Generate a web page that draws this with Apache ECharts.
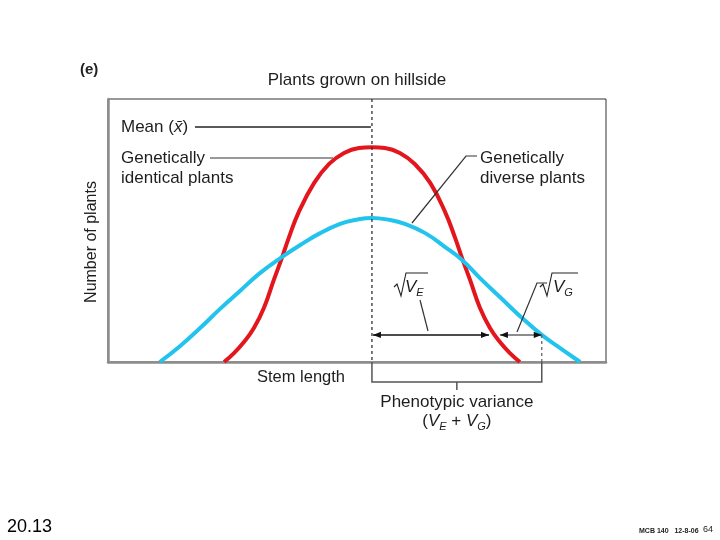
<!DOCTYPE html>
<html><head><meta charset="utf-8">
<script src="https://cdn.jsdelivr.net/npm/echarts@6/dist/echarts.min.js"></script>
<style>html,body{margin:0;padding:0;background:#fff}#c{width:720px;height:540px}</style>
</head><body><div id="c"></div>
<script>
// Genetically identical plants (red curve): stem length vs number of plants
const identicalX = [23.3,25.3,27.3,29.3,31.3,33.3,34.9,36.3,38.3,41.4,44.4,47.4,50.4,53.0,55.6,58.6,61.6,64.7,67.7,69.7,71.1,72.7,74.7,76.7,78.7,80.7,82.7];
const identicalY = [0,3.4,7.6,12.9,20.5,31.2,39.5,47.2,57.0,68.1,75.3,79.5,81.4,81.7,81.4,79.5,75.3,68.1,57.0,47.2,39.5,31.2,20.5,12.9,7.6,3.4,0];
// Genetically diverse plants (cyan curve)
const diverseX = [10.4,14.5,18.5,22.5,26.5,30.5,34.9,38.6,42.6,46.6,49.6,53.0,56.6,59.6,63.7,67.7,71.1,74.7,78.7,82.7,87.1,90.8,94.8];
const diverseY = [0,6.1,12.9,20.2,27.0,33.8,39.9,44.5,49.0,52.5,54.0,54.8,54.0,52.5,49.0,43.7,38.8,31.9,24.7,17.5,10.3,5.3,0];
// Annotation values (data units)
const meanX = 53.0;
const arrowY = 10.3;
const bracketY = -7.6;
const veSpan = [53.2, 76.5];
const vgSpan = [78.7, 87.1];

(function () {
const F = '"Liberation Sans", Arial, Helvetica, sans-serif';
const TXT = '#1e1e1e';
const zip = (xs, ys) => xs.map((x, i) => [x, ys[i]]);

const chart = echarts.init(document.getElementById('c'), null, {renderer: 'canvas'});
const axisCommon = {
  type: 'value', min: 0, max: 100,
  axisLine: {show: true, onZero: false, lineStyle: {color: '#8c8c8c', width: 2.5}},
  axisTick: {show: false}, axisLabel: {show: false}, splitLine: {show: false}
};
chart.setOption({
  animation: false,
  backgroundColor: '#fff',
  grid: {left: 108, top: 99, width: 498, height: 263, show: true, borderColor: '#333', borderWidth: 1},
  xAxis: axisCommon,
  yAxis: axisCommon,
  series: [
    {type: 'line', data: zip(identicalX, identicalY), smooth: 0.45, symbol: 'none',
     lineStyle: {color: '#e3161d', width: 4}, z: 2},
    {type: 'line', data: zip(diverseX, diverseY), smooth: 0.45, symbol: 'none',
     lineStyle: {color: '#22c3ec', width: 4}, z: 3}
  ]
});

const P = (x, y) => chart.convertToPixel({gridIndex: 0}, [x, y]);
const line = (pts, color, w, dash, z) => ({type: 'polyline', z: z || 10, shape: {points: pts},
  style: {stroke: color, lineWidth: w, lineDash: dash || null, fill: null}});
const head = (tip, dir) => ({type: 'polygon', z: 11,
  shape: {points: [[tip[0], tip[1]], [tip[0] - dir * 8, tip[1] - 3.2], [tip[0] - dir * 8, tip[1] + 3.2]]},
  style: {fill: '#111'}});
const text = (t, x, y, opt) => Object.assign({type: 'text', z: 12, x: x, y: y,
  style: Object.assign({text: t, font: `17px ${F}`, fill: TXT, align: 'left', verticalAlign: 'middle'}, (opt || {}).style || {})},
  (opt || {}).extra || {});

const topP = P(meanX, 100), axisMean = P(meanX, 0), brMean = P(meanX, bracketY);
const veL = P(veSpan[0], arrowY), veR = P(veSpan[1], arrowY);
const vgL = P(vgSpan[0], arrowY), vgR = P(vgSpan[1], arrowY);
const vgAxis = P(vgSpan[1], 0), vgBr = P(vgSpan[1], bracketY);
const midX = (brMean[0] + vgBr[0]) / 2;

const vStyle = {font: `italic 17px ${F}`, fill: TXT, lineHeight: 22};
const sStyle = {font: `italic 11px ${F}`, fill: TXT, lineHeight: 12, verticalAlign: 'bottom'};
const nStyle = {font: `17px ${F}`, fill: TXT, lineHeight: 22};

const g = [
  line([topP, axisMean], '#333', 1.3, [3, 3]),
  line([axisMean, brMean, vgBr, vgAxis], '#555', 1.5),
  line([vgAxis, vgR], '#666', 1.3, [3, 3]),
  line([[midX, brMean[1]], [midX, brMean[1] + 8]], '#555', 1.5),
  line([veL, veR], '#111', 1.5),
  head(veL, -1), head(veR, 1),
  line([vgL, vgR], '#666', 1.5),
  head(vgL, -1), head(vgR, 1),
  line([[195, 127], [topP[0] - 1, 127]], '#222', 1.4),
  line([[210, 158], [333, 158]], '#777', 1.4),
  line([[477, 156], [466, 156], [412, 223]], '#333', 1.2),
  line([[420, 300], [428, 331]], '#333', 1.2),
  line([[517, 332], [537, 283], [547, 283]], '#333', 1.2),
  line([[394, 287], [397, 284], [401, 296], [406, 273], [428, 273]], '#222', 1.1),
  line([[540, 287], [543, 284], [547, 296], [552, 273], [578, 273]], '#222', 1.1),
  text('(e)', 80, 70, {style: {font: `bold 15px ${F}`, fill: '#222'}}),
  text('Plants grown on hillside', 357, 80, {style: {align: 'center'}}),
  text('Mean ({v|x̄})', 121, 127, {style: {rich: {v: {font: `italic 17px ${F}`, fill: TXT}}}}),
  text('Genetically', 121, 158),
  text('identical plants', 121, 178),
  text('Genetically', 480, 158),
  text('diverse plants', 480, 178),
  text('Stem length', 257, 377, {style: {font: `16.5px ${F}`}}),
  text('Phenotypic variance', midX, 402, {style: {align: 'center'}}),
  text('({v|V}{s|E} {n|+} {v|V}{s|G})', midX, 421, {style: {align: 'center', font: `17px ${F}`, lineHeight: 22,
    rich: {v: vStyle, s: sStyle, n: nStyle}}}),
  text('{v|V}{s|E}', 405, 287, {style: {lineHeight: 22, rich: {v: vStyle, s: sStyle}}}),
  text('{v|V}{s|G}', 553, 287, {style: {lineHeight: 22, rich: {v: vStyle, s: sStyle}}}),
  text('Number of plants', 0, 0, {style: {align: 'center', font: `16px ${F}`}, extra: {x: 92, y: 242, rotation: Math.PI / 2}}),
  text('20.13', 7, 527, {style: {font: `18px ${F}`, fill: '#000'}}),
  text('MCB 140   12-8-06', 639, 531, {style: {font: `bold 7px ${F}`, fill: '#222'}}),
  text('64', 703, 530, {style: {font: `9px ${F}`, fill: '#222'}})
];
chart.setOption({graphic: g});
})();
</script>
</body></html>
